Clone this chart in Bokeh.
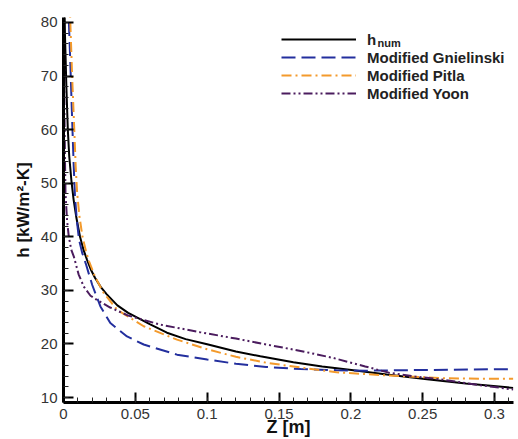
from bokeh.plotting import figure
from bokeh.models import (Legend, LegendItem, Label, SingleIntervalTicker,
                          CustomJSTickFormatter)
from bokeh.embed import file_html
from bokeh.resources import INLINE

# ---- data ----
z_num = [0.0004, 0.001, 0.002, 0.003, 0.004, 0.0055, 0.007, 0.009, 0.0115, 0.014,
         0.0164, 0.019, 0.022, 0.026, 0.03, 0.0375, 0.045, 0.0514, 0.06, 0.072,
         0.085, 0.1, 0.12, 0.137, 0.16, 0.18, 0.199, 0.225, 0.253, 0.28, 0.313]
h_num = [88, 78, 68, 60, 55, 50.5, 47, 43.5, 40, 37.5,
         35.7, 33.9, 32.3, 30.6, 29.3, 27.2, 25.8, 24.9, 23.7, 22.1,
         20.9, 19.95, 18.6, 17.7, 16.6, 15.8, 15.2, 14.3, 13.4, 12.6, 11.8]

z_gn = [0.002, 0.0035, 0.0048, 0.006, 0.007, 0.008, 0.0093, 0.0108, 0.013, 0.0155,
        0.02, 0.0257, 0.0326, 0.0442, 0.0558, 0.079, 0.1, 0.12, 0.141, 0.165,
        0.19, 0.21, 0.24, 0.27, 0.313]
h_gn = [95, 82, 72, 62, 54, 47.5, 43, 39.5, 37, 35,
        31, 27, 23.9, 21.4, 19.9, 18.0, 17.1, 16.3, 15.7, 15.3,
        15.1, 15.0, 15.1, 15.2, 15.3]

z_pi = [0.003, 0.0045, 0.006, 0.0075, 0.0085, 0.0095, 0.011, 0.0132, 0.0155, 0.0174,
        0.022, 0.028, 0.0373, 0.0558, 0.079, 0.1, 0.12, 0.141, 0.165, 0.19,
        0.22, 0.25, 0.265, 0.29, 0.313]
h_pi = [95, 82, 70, 60, 53, 48.2, 44, 40, 37.5, 35.7,
        32.5, 29.5, 26.4, 23.3, 20.8, 19.0, 17.6, 16.5, 15.6, 14.7,
        14.2, 13.8, 13.6, 13.5, 13.5]

z_yo = [0.0001, 0.0003, 0.0006, 0.001, 0.0014, 0.0025, 0.0037, 0.0055, 0.0072, 0.0105,
        0.0141, 0.0188, 0.0234, 0.0325, 0.045, 0.0674, 0.095, 0.12, 0.141, 0.165,
        0.1875, 0.21, 0.227, 0.245, 0.262, 0.29, 0.313]
h_yo = [95, 80, 65, 55, 48, 43, 40, 37.5, 36.3, 33,
        30.7, 29.0, 28.2, 26.8, 25.3, 23.6, 22.2, 21.0, 19.9, 18.7,
        17.4, 15.8, 14.6, 13.9, 13.4, 12.3, 11.5]

labels = ["h", "Modified Gnielinski", "Modified Pitla", "Modified Yoon"]
sub_label = "num"

FONT = "Liberation Sans"

p = figure(width=518, height=439, x_range=(0, 0.3132), y_range=(9.07, 80.93),
           output_backend="svg", toolbar_location=None,
           min_border_left=63, min_border_right=5, min_border_top=17,
           min_border_bottom=36)
p.outline_line_color = None
p.xgrid.visible = False
p.ygrid.visible = False
p.background_fill_color = "white"

r1 = p.line(z_num, h_num, line_color="black", line_width=2)
r2 = p.line(z_gn, h_gn, line_color="#232f9e", line_width=2, line_dash="14 6")
r3 = p.line(z_pi, h_pi, line_color="#f39a2c", line_width=2, line_dash="10 4 2 4")
r4 = p.line(z_yo, h_yo, line_color="#4b1c5e", line_width=2, line_dash="9 3 2 3 2 3")

fmt = CustomJSTickFormatter(code="return Number(tick.toFixed(3)).toString();")
p.xaxis.ticker = SingleIntervalTicker(interval=0.05, num_minor_ticks=5)
p.yaxis.ticker = SingleIntervalTicker(interval=10, num_minor_ticks=5)
for ax in (p.xaxis[0], p.yaxis[0]):
    ax.formatter = fmt
    ax.axis_line_width = 3
    ax.axis_line_color = "black"
    ax.major_tick_in = 10
    ax.major_tick_out = 0
    ax.major_tick_line_width = 2
    ax.major_tick_line_color = "black"
    ax.minor_tick_in = 5
    ax.minor_tick_out = 0
    ax.minor_tick_line_width = 1
    ax.minor_tick_line_color = "#222222"
    ax.major_label_text_font = FONT
    ax.major_label_text_font_size = "15px"
    ax.major_label_text_color = "#333333"
    ax.axis_label_text_font = FONT
    ax.axis_label_text_font_style = "bold"
    ax.axis_label_text_color = "#111111"

p.xaxis.axis_label = "Z [m]"
p.xaxis.major_label_standoff = 6
p.xaxis.axis_label_standoff = -5
p.xaxis.axis_label_text_font_size = "18px"

p.yaxis.axis_label = "h [kW/m²-K]"
p.yaxis.major_label_standoff = 6
p.yaxis.axis_label_standoff = 5
p.yaxis.axis_label_text_font_size = "17px"

legend = Legend(items=[LegendItem(label=labels[0], renderers=[r1]),
                       LegendItem(label=labels[1], renderers=[r2]),
                       LegendItem(label=labels[2], renderers=[r3]),
                       LegendItem(label=labels[3], renderers=[r4])],
                location=(218, 300), padding=0, margin=0, spacing=0,
                glyph_width=75, glyph_height=18, label_height=18,
                label_standoff=11, border_line_color=None,
                background_fill_alpha=0,
                label_text_font=FONT, label_text_font_style="bold",
                label_text_font_size="15px", label_text_color="#222222")
p.add_layout(legend)

p.add_layout(Label(x=314, y=360, x_units="screen", y_units="screen",
                   text=sub_label, text_font=FONT, text_font_style="bold",
                   text_font_size="11px", text_baseline="middle",
                   text_align="left", text_color="#222222"))

open("out.html", "w").write(file_html(p, INLINE))
